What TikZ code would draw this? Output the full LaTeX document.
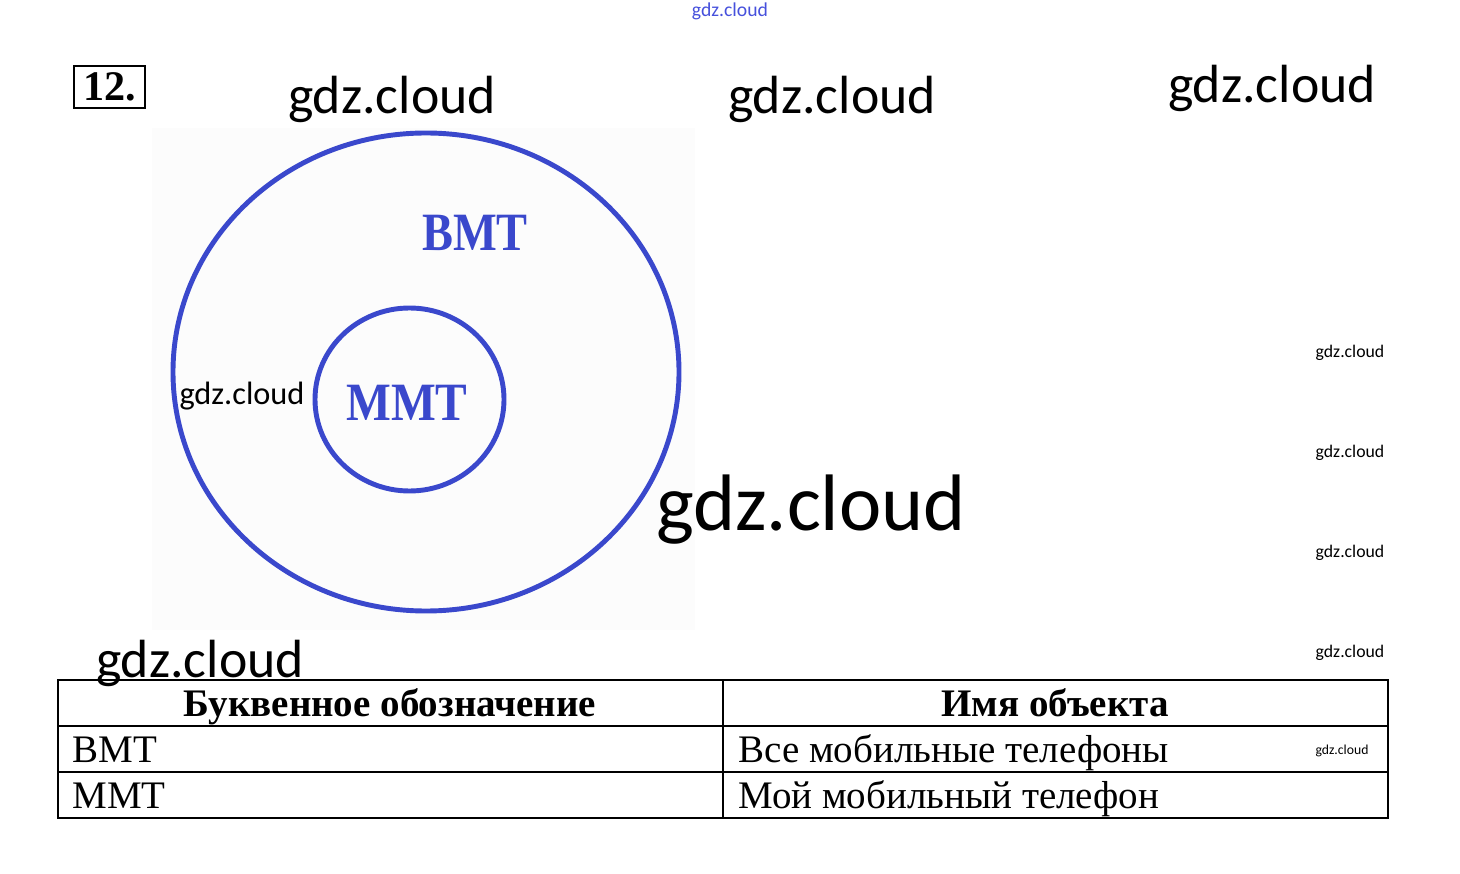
\documentclass[tikz,border=0pt]{standalone}
\usepackage{fontspec}
\setmainfont{Liberation Serif}
\newfontfamily\wmfont{Carlito}
\definecolor{setblue}{RGB}{58,72,204}
\definecolor{wmblue}{RGB}{70,80,220}
\usetikzlibrary{positioning}

\begin{document}
\begin{tikzpicture}[x=0.02cm, y=-0.02cm,
    ring/.style={draw=setblue, line width=2.8pt},
    setlbl/.style={text=setblue, font=\bfseries\fontsize{30.7}{31}\selectfont, inner sep=0pt},
    cell/.style={font=\fontsize{22.2}{23}\selectfont, inner sep=0pt, anchor=base west},
    head/.style={font=\bfseries\fontsize{22.2}{23}\selectfont, inner sep=0pt, anchor=base},
    grid/.style={line width=1.1pt, black},
    wm/.style={font=\wmfont\fontsize{#1}{#1}\selectfont, inner sep=0pt}
  ]
    \useasboundingbox (0,0) rectangle (1460,874);

    % Task number
    \node[draw, line width=1.1pt, minimum width=71*0.02cm, minimum height=42*0.02cm,
          font=\bfseries\fontsize{24}{24}\selectfont, inner sep=0pt] (num) at (109.5,87) {12.};

    % Euler circles
    \fill[black!1.2] (152,128) rectangle (695,630);
    \draw[ring] (426,372) ellipse [x radius=253, y radius=239];
    \draw[ring] (409.5,399.5) ellipse [x radius=94.5, y radius=91.5];
    \node[setlbl, xscale=0.86] (vmt) at (475,233) {ВМТ};
    \node[setlbl, xscale=0.88] (mmt) at (407,403) {ММТ};

    % Table
    \draw[grid] (58,680) rectangle (1388,818);
    \draw[grid] (58,726) -- (1388,726);
    \draw[grid] (58,772) -- (1388,772);
    \draw[grid] (723,680) -- (723,818);
    \node[head] (h1) at (390,716) {Буквенное обозначение};
    \node[head] (h2) at (1055,716) {Имя объекта};
    \node[cell] (c11) at (72,762) {ВМТ};
    \node[cell] (c12) at (738,762) {Все мобильные телефоны};
    \node[cell] (c21) at (72,808) {ММТ};
    \node[cell] (c22) at (738,808) {Мой мобильный телефон};

    % Watermarks
    \node[wm=11.2, text=wmblue] (w0) at (730,11) {gdz.cloud};
    \node[wm=30.6] (w1) at (392,99) {gdz.cloud};
    \node[wm=30.6] (w2) at (832,99) {gdz.cloud};
    \node[wm=30.6] (w3) at (1272,88) {gdz.cloud};
    \node[wm=18.4] (w4) at (242,396) {gdz.cloud};
    \node[wm=45.6] (w5) at (811,510) {gdz.cloud};
    \node[wm=30.6] (w6) at (200,663) {gdz.cloud};
    \node[wm=10.1] (w7) at (1350,353) {gdz.cloud};
    \node[wm=10.1] (w8) at (1350,453) {gdz.cloud};
    \node[wm=10.1] (w9) at (1350,553) {gdz.cloud};
    \node[wm=10.1] (w10) at (1350,653) {gdz.cloud};
    \node[wm=7.8] (w11) at (1342,751) {gdz.cloud};
  \end{tikzpicture}
\end{document}
